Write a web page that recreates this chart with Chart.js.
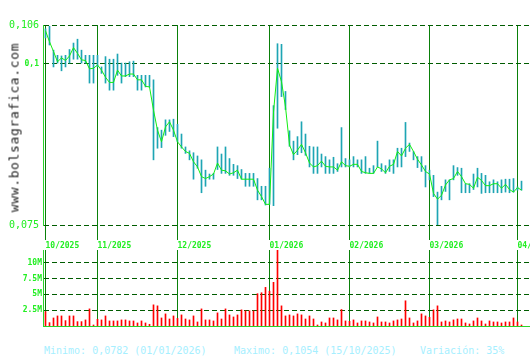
<!DOCTYPE html>
<html>
<head>
<meta charset="utf-8">
<script src="https://cdn.jsdelivr.net/npm/chart.js@4"></script>
<style>
  html, body { margin: 0; padding: 0; background: #fff; }
  #wrap { position: relative; width: 530px; height: 360px; overflow: hidden; background: #fff; }
  #priceChart { position: absolute; left: 0; top: 0; }
  #volChart { position: absolute; left: 0; top: 250px; }
  .watermark {
    position: absolute; left: -72px; top: 121px; width: 170px; height: 13px;
    line-height: 13px; font: 13px 'DejaVu Sans Mono', monospace; letter-spacing: 0.65px;
    color: #222; transform: rotate(-90deg); transform-origin: center; white-space: nowrap; text-align: center;
  }
  .info {
    position: absolute; top: 346px; font: 10px 'DejaVu Sans Mono', monospace; line-height: 10px;
    color: #a6efff; white-space: pre;
  }
</style>
</head>
<body>
<div id="wrap">
  <canvas id="priceChart" width="530" height="250"></canvas>
  <canvas id="volChart" width="530" height="80"></canvas>
  <div class="watermark">www.bolsagrafica.com</div>
  <div class="info" style="left:44px">Minimo: 0,0782 (01/01/2026)</div>
  <div class="info" style="left:234px">Maximo: 0,1054 (15/10/2025)</div>
  <div class="info" style="left:420px">Variación: 35%</div>
</div>
<script>
// Daily sessions 15/10/2025 .. 02/04/2026 (index = session number)
const closes = [
  0.1051, 0.1034, 0.1019, 0.1003, 0.1009, 0.1005, 0.1012, 0.1025, 0.1016, 0.1006,
  0.1005, 0.0992, 0.0993, 0.0998, 0.0990, 0.0979, 0.0971, 0.0971, 0.0990, 0.0981,
  0.0981, 0.0984, 0.0984, 0.0975, 0.0975, 0.0965, 0.0964, 0.0928, 0.0897, 0.0879,
  0.0902, 0.0910, 0.0897, 0.0879, 0.0871, 0.0864, 0.0861, 0.0848, 0.0840, 0.0825,
  0.0822, 0.0825, 0.0829, 0.0846, 0.0835, 0.0834, 0.0829, 0.0831, 0.0835, 0.0821,
  0.0821, 0.0821, 0.0821, 0.0804, 0.0794, 0.0782, 0.0782, 0.0925, 0.0993, 0.0972,
  0.0933, 0.0874, 0.0859, 0.0866, 0.0875, 0.0862, 0.0846, 0.0840, 0.0842, 0.0849,
  0.0841, 0.0840, 0.0840, 0.0835, 0.0848, 0.0842, 0.0841, 0.0844, 0.0844, 0.0833,
  0.0831, 0.0830, 0.0830, 0.0840, 0.0837, 0.0831, 0.0841, 0.0844, 0.0864, 0.0857,
  0.0869, 0.0875, 0.0864, 0.0852, 0.0843, 0.0833, 0.0829, 0.0799, 0.0790, 0.0796,
  0.0812, 0.0820, 0.0822, 0.0833, 0.0825, 0.0814, 0.0813, 0.0807, 0.0824, 0.0819,
  0.0811, 0.0811, 0.0814, 0.0814, 0.0807, 0.0813, 0.0805, 0.0801, 0.0808, 0.0804
];
const highs = [
  0.1054, 0.1058, 0.1021, 0.1013, 0.1012, 0.1013, 0.1022, 0.1032, 0.1038, 0.1021,
  0.1013, 0.1013, 0.1013, 0.1013, 0.0995, 0.1011, 0.1007, 0.1007, 0.1015, 0.1001,
  0.1001, 0.1003, 0.1004, 0.0982, 0.0982, 0.0982, 0.0982, 0.0975, 0.0901, 0.0897,
  0.0913, 0.0913, 0.0914, 0.0906, 0.0891, 0.0871, 0.0865, 0.0862, 0.0857, 0.0851,
  0.0835, 0.0829, 0.0830, 0.0871, 0.0860, 0.0871, 0.0853, 0.0844, 0.0842, 0.0836,
  0.0830, 0.0830, 0.0830, 0.0822, 0.0810, 0.0810, 0.0838, 0.0935, 0.1031, 0.1030,
  0.0957, 0.0896, 0.0880, 0.0887, 0.0910, 0.0891, 0.0872, 0.0871, 0.0871, 0.0860,
  0.0856, 0.0851, 0.0855, 0.0845, 0.0901, 0.0853, 0.0851, 0.0856, 0.0851, 0.0851,
  0.0856, 0.0838, 0.0842, 0.0880, 0.0845, 0.0842, 0.0851, 0.0851, 0.0869, 0.0869,
  0.0909, 0.0877, 0.0864, 0.0856, 0.0856, 0.0842, 0.0835, 0.0827, 0.0801, 0.0810,
  0.0820, 0.0820, 0.0842, 0.0839, 0.0838, 0.0814, 0.0814, 0.0829, 0.0838, 0.0830,
  0.0827, 0.0817, 0.0820, 0.0817, 0.0820, 0.0821, 0.0821, 0.0822, 0.0809, 0.0818
];
const lows = [
  0.1040, 0.1029, 0.0995, 0.1001, 0.0989, 0.0995, 0.1001, 0.1007, 0.1007, 0.1001,
  0.1001, 0.0970, 0.0970, 0.0995, 0.0985, 0.0970, 0.0959, 0.0959, 0.0982, 0.0970,
  0.0980, 0.0980, 0.0980, 0.0959, 0.0959, 0.0964, 0.0964, 0.0851, 0.0869, 0.0870,
  0.0889, 0.0895, 0.0887, 0.0879, 0.0869, 0.0861, 0.0851, 0.0821, 0.0838, 0.0800,
  0.0810, 0.0821, 0.0821, 0.0836, 0.0830, 0.0830, 0.0827, 0.0827, 0.0822, 0.0821,
  0.0810, 0.0810, 0.0810, 0.0789, 0.0789, 0.0781, 0.0782, 0.0780, 0.0900, 0.0949,
  0.0929, 0.0872, 0.0851, 0.0859, 0.0862, 0.0858, 0.0840, 0.0830, 0.0830, 0.0840,
  0.0830, 0.0830, 0.0830, 0.0833, 0.0840, 0.0840, 0.0840, 0.0840, 0.0840, 0.0830,
  0.0830, 0.0830, 0.0830, 0.0840, 0.0833, 0.0830, 0.0833, 0.0830, 0.0840, 0.0840,
  0.0856, 0.0864, 0.0851, 0.0839, 0.0833, 0.0809, 0.0820, 0.0794, 0.0750, 0.0789,
  0.0802, 0.0789, 0.0820, 0.0827, 0.0800, 0.0800, 0.0800, 0.0805, 0.0809, 0.0799,
  0.0800, 0.0800, 0.0800, 0.0800, 0.0800, 0.0801, 0.0800, 0.0801, 0.0804, 0.0804
];
// volume in millions of shares
const volumes = [
  2.28, 0.53, 1.27, 1.59, 1.59, 0.85, 1.59, 1.59, 0.69, 0.69,
  0.96, 2.70, 0.16, 1.06, 0.96, 1.59, 0.80, 0.80, 0.80, 0.96,
  0.96, 0.80, 0.80, 0.48, 0.80, 0.48, 0.27, 3.34, 3.18, 1.27,
  1.91, 1.11, 1.59, 1.20, 1.75, 1.11, 0.96, 1.59, 0.64, 2.70,
  0.96, 0.96, 0.80, 2.07, 1.11, 2.70, 1.75, 1.43, 1.75, 2.55,
  2.39, 2.39, 2.39, 5.10, 5.25, 6.10, 5.50, 6.90, 12.0, 3.18,
  1.59, 1.75, 1.59, 1.91, 1.75, 1.11, 1.59, 1.11, 0.16, 0.64,
  0.48, 1.27, 1.27, 0.96, 2.60, 0.80, 0.74, 0.96, 0.48, 0.80,
  0.80, 0.64, 0.48, 1.43, 0.64, 0.64, 0.48, 0.80, 0.96, 1.11,
  3.98, 1.27, 0.48, 0.80, 1.91, 1.59, 1.38, 2.55, 3.18, 0.64,
  0.80, 0.64, 0.96, 1.11, 1.11, 0.48, 0.32, 0.80, 1.27, 0.80,
  0.32, 0.80, 0.64, 0.64, 0.48, 0.64, 0.64, 1.27, 0.64, 0.16
];
const monthTicks = [0, 13, 33, 56, 76, 96, 118];
const monthLabels = ['10/2025', '11/2025', '12/2025', '01/2026', '02/2026', '03/2026', '04/2026'];
const priceTicks = [0.075, 0.1, 0.106];
const volumeTicks = [2.5, 5, 7.5, 10];

// Theme
const mono = "'DejaVu Sans Mono', monospace";
const labelGreen = '#22ee22';
const dashGreen = '#005c00';
const monthGreen = '#0a800a';
const axisGreen = '#2ad42a';
const xMin = -0.625;
const xMax = 121.125;

// keep the plot areas exactly where the reference has them
function fixWidth(w) {
    return scale => { scale.width = w; scale.paddingTop = 0; scale.paddingBottom = 0; };
}
function fixHeight(h) {
    return scale => { scale.height = h; scale.paddingLeft = 0; scale.paddingRight = 0; };
}
const monthTickBuilder = scale => { scale.ticks = monthTicks.map(v => ({ value: v })); };

// Price chart: high-low bars + close line
new Chart(document.getElementById('priceChart'), {
    type: 'bar',
    data: {
        datasets: [
            {
                type: 'line',
                data: closes.map((c, i) => ({ x: i, y: c })),
                borderColor: '#11ee11',
                borderWidth: 1,
                pointRadius: 0,
                tension: 0,
                order: 0
            },
            {
                type: 'bar',
                data: highs.map((h, i) => ({ x: i, y: [lows[i], h] })),
                backgroundColor: '#1ea5b4',
                barThickness: 1,
                order: 1
            }
        ]
    },
    options: {
        responsive: false,
        animation: false,
        layout: { padding: { top: 25, left: 0, right: 0, bottom: 0 } },
        plugins: { legend: { display: false }, tooltip: { enabled: false } },
        scales: {
            x: {
                type: 'linear',
                min: xMin,
                max: xMax,
                offset: false,
                afterBuildTicks: monthTickBuilder,
                afterFit: fixHeight(25),
                grid: { offset: false, color: monthGreen, lineWidth: 1, drawTicks: true, tickLength: 15, tickColor: monthGreen },
                border: { display: false },
                ticks: {
                    autoSkip: false,
                    maxRotation: 0,
                    align: 'start',
                    padding: 1,
                    color: labelGreen,
                    font: { family: mono, size: 8, weight: 'bold' },
                    callback: v => monthLabels[monthTicks.indexOf(v)]
                }
            },
            y: {
                min: 0.075,
                max: 0.106,
                afterBuildTicks: scale => { scale.ticks = priceTicks.map(v => ({ value: v })); },
                afterFit: fixWidth(43),
                grid: { color: dashGreen, drawTicks: false },
                border: { display: true, color: axisGreen, width: 1, dash: [5, 3] },
                ticks: {
                    padding: 4,
                    color: labelGreen,
                    font: ctx => (ctx.tick && Math.abs(ctx.tick.value - 0.1) < 1e-9)
                        ? { family: mono, size: 8, weight: 'bold' }
                        : { family: mono, size: 10 },
                    callback: v => String(v).replace('.', ',')
                }
            }
        }
    }
});

// Volume chart
new Chart(document.getElementById('volChart'), {
    type: 'bar',
    data: {
        datasets: [{
            data: volumes.map((v, i) => ({ x: i, y: v })),
            backgroundColor: '#ff0000',
            barThickness: 1
        }]
    },
    options: {
        responsive: false,
        animation: false,
        layout: { padding: 0 },
        plugins: { legend: { display: false }, tooltip: { enabled: false } },
        scales: {
            x: {
                type: 'linear',
                min: xMin,
                max: xMax,
                offset: false,
                afterBuildTicks: monthTickBuilder,
                afterFit: fixHeight(4),
                grid: { offset: false, color: monthGreen, drawTicks: false },
                border: { display: true, color: axisGreen, width: 1 },
                ticks: { display: false }
            },
            y: {
                min: 0,
                max: 12,
                afterBuildTicks: scale => { scale.ticks = volumeTicks.map(v => ({ value: v })); },
                afterFit: fixWidth(43),
                grid: { color: dashGreen, drawTicks: false },
                border: { display: true, color: axisGreen, width: 1, dash: [5, 3] },
                ticks: {
                    padding: 1,
                    color: labelGreen,
                    font: { family: mono, size: 8, weight: 'bold' },
                    callback: v => v + 'M'
                }
            }
        }
    }
});
</script>
</body>
</html>
